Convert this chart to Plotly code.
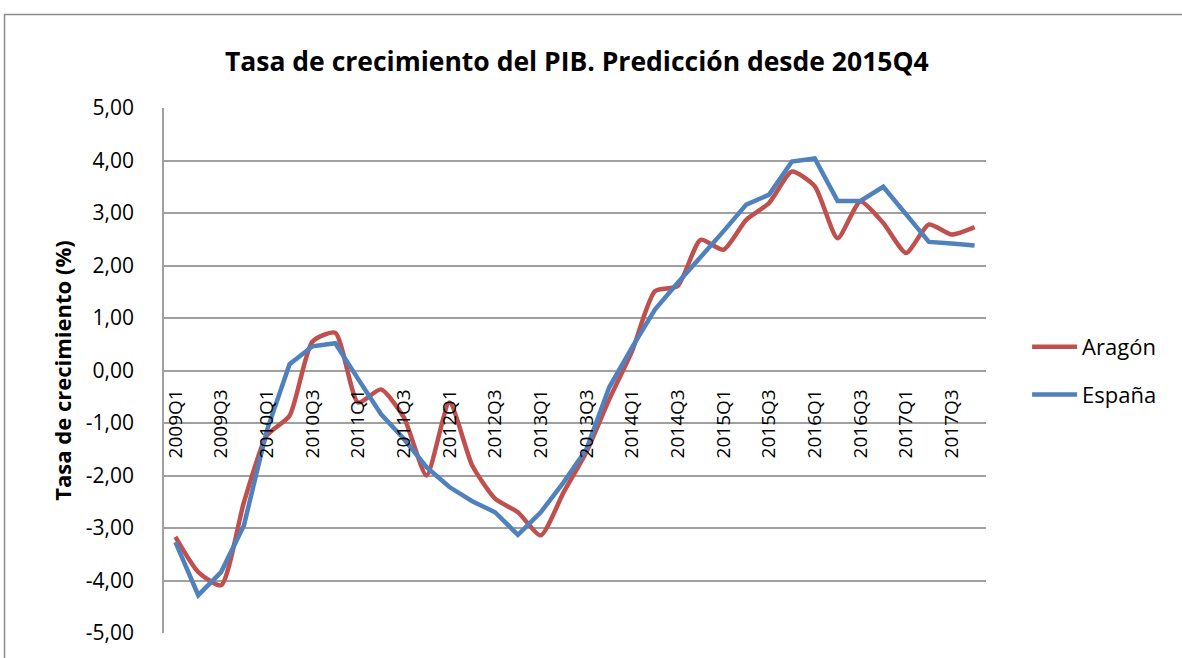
import plotly.graph_objects as go

quarters = [f"{y}Q{q}" for y in range(2009, 2018) for q in range(1, 5)]
aragon = [-3.17, -3.84, -4.09, -2.51, -1.24, -0.86, 0.55, 0.72, -0.61, -0.36,
          -0.89, -2.00, -0.61, -1.81, -2.44, -2.70, -3.14, -2.32, -1.55, -0.55,
          0.37, 1.51, 1.61, 2.49, 2.30, 2.87, 3.19, 3.79, 3.51, 2.52,
          3.22, 2.81, 2.24, 2.78, 2.59, 2.73]
espana = [-3.27, -4.28, -3.84, -2.95, -1.15, 0.12, 0.46, 0.52, -0.16, -0.83,
          -1.30, -1.84, -2.22, -2.49, -2.70, -3.13, -2.70, -2.13, -1.50, -0.32,
          0.44, 1.16, 1.67, 2.15, 2.65, 3.16, 3.35, 3.98, 4.04, 3.23,
          3.23, 3.50, 2.97, 2.45, 2.42, 2.38]
y_ticks = [5, 4, 3, 2, 1, 0, -1, -2, -3, -4, -5]
y_tick_text = ["5,00", "4,00", "3,00", "2,00", "1,00", "0,00", "-1,00", "-2,00", "-3,00", "-4,00", "-5,00"]
x_tick_vals = quarters[::2]

FONT = "Open Sans"

fig = go.Figure()
fig.add_trace(go.Scatter(x=quarters, y=aragon, name="Aragón", mode="lines",
                         line=dict(color="#C0504D", width=4.5, shape="spline", smoothing=0.6),
                         legendgroup="a"))
fig.add_trace(go.Scatter(x=quarters, y=espana, name="España", mode="lines",
                         line=dict(color="#4F81BD", width=4.5),
                         legendgroup="b"))

fig.update_layout(
    width=1182, height=658,
    margin=dict(l=163.5, r=196.3, t=108, b=23),
    paper_bgcolor="white", plot_bgcolor="white",
    font=dict(family=FONT, color="#000000"),
    title=dict(text="<b>Tasa de crecimiento del PIB. Predicción desde 2015Q4</b>",
               font=dict(size=26.5, family=FONT, color="#000000"),
               x=0.488, xref="container", xanchor="center",
               y=0.906, yref="container", yanchor="middle"),
    showlegend=True,
    legend=dict(x=1.050, y=0.499, xanchor="left", yanchor="middle",
                font=dict(size=22, family=FONT, color="#000000"),
                tracegroupgap=16, traceorder="grouped", itemwidth=45,
                bgcolor="rgba(0,0,0,0)"),
    xaxis=dict(type="category", categoryorder="array", categoryarray=quarters,
               range=[-0.5, 35.5], tickmode="array", tickvals=x_tick_vals,
               ticktext=x_tick_vals, tickangle=-90, showgrid=False,
               anchor="free", position=0.5, showline=False, ticks="",
               ticklabelstandoff=14,
               tickfont=dict(size=19, family=FONT, color="#000000"),
               zeroline=False),
    yaxis=dict(range=[-5, 5], tickmode="array", tickvals=y_ticks, ticktext=y_tick_text,
               showgrid=True, gridcolor="#A0A0A0", gridwidth=1.5,
               showline=True, linecolor="#A0A0A0", linewidth=1.5,
               zeroline=False, ticks="", ticklabelstandoff=24,
               tickfont=dict(size=21, family=FONT, color="#000000"),
               title=dict(text="<b>Tasa de crecimiento (%)</b>",
                          font=dict(size=22, family=FONT, color="#000000"),
                          standoff=8)),
)

# chart-area frame
fig.add_shape(type="rect", xref="paper", yref="paper",
              x0=-0.194, x1=1.4, y0=-0.2, y1=1.178,
              line=dict(color="#8C8C8C", width=1.5), layer="below")

fig.write_html("out.html", config={"displayModeBar": False},
               post_script="document.body.style.margin='0';")
